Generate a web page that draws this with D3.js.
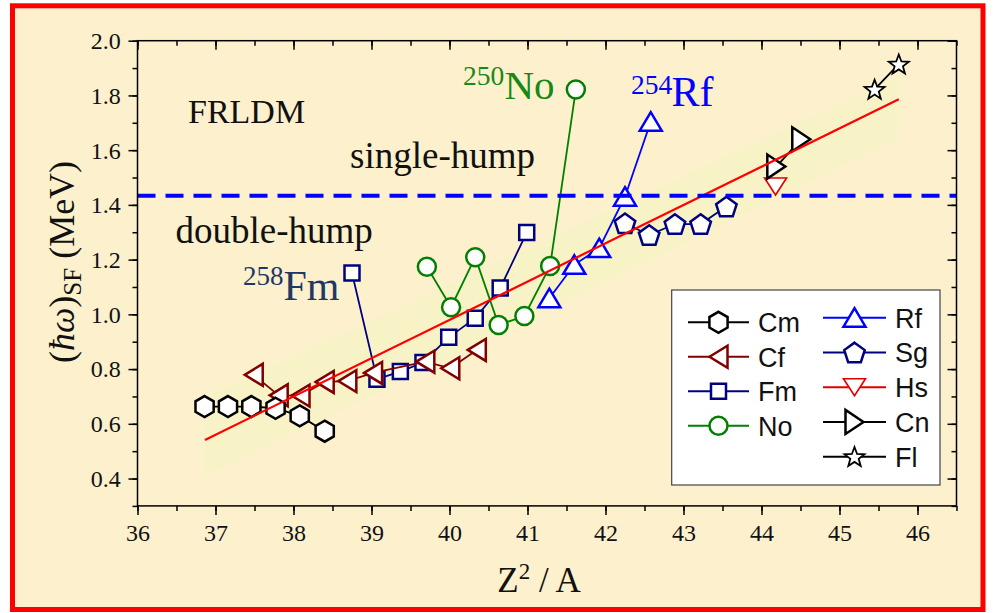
<!DOCTYPE html>
<html><head><meta charset="utf-8">
<script src="https://cdn.jsdelivr.net/npm/d3@7"></script>
<style>body{margin:0;background:#fff}svg{display:block}</style>
</head><body>
<svg id="c" width="994" height="613"></svg>
<script>
// ---------- data ----------
const xTicks = [36,37,38,39,40,41,42,43,44,45,46];
const yTicks = [0.4,0.6,0.8,1.0,1.2,1.4,1.6,1.8,2.0];
const cmX = [36.86,37.16,37.46,37.77,38.08,38.40];
const cmY = [0.663,0.663,0.663,0.657,0.629,0.573];
const cfX = [37.49,37.81,38.09,38.40,38.69,39.02,39.69,40.01,40.35];
const cfY = [0.779,0.704,0.703,0.753,0.756,0.786,0.827,0.803,0.870];
const fmX = [38.75,39.07,39.37,39.66,39.99,40.33,40.65,40.99];
const fmY = [1.151,0.763,0.791,0.824,0.916,0.986,1.096,1.299];
const noX = [39.71,40.02,40.33,40.63,40.96,41.29,41.62];
const noY = [1.174,1.026,1.209,0.961,0.994,1.177,1.822];
const rfX = [41.28,41.60,41.92,42.25,42.58];
const rfY = [1.059,1.181,1.242,1.430,1.704];
const sgX = [42.25,42.56,42.89,43.22,43.55];
const sgY = [1.333,1.290,1.330,1.330,1.394];
const hsX = [44.18];
const hsY = [1.467];
const cnX = [44.19,44.51];
const cnY = [1.540,1.640];
const flX = [45.45,45.76];
const flY = [1.822,1.914];
const fitX = [36.865,45.76];
const fitY = [0.541,1.786];
const bandUpper = [0.695,1.869];
const bandLower = [0.407,1.643];
const threshold = 1.433;
const seriesNames = ["Cm","Cf","Fm","No","Rf","Sg","Hs","Cn","Fl"];

// ---------- setup ----------
const svg = d3.select("#c");
const x = d3.scaleLinear().domain([36,46.5]).range([137.5,956.5]);
const y = d3.scaleLinear().domain([0.3,2.0]).range([505.9,40.7]);
const serif = "'Liberation Serif','Times New Roman',serif";
const sans = "'Liberation Sans',Arial,sans-serif";

svg.append("rect").attr("x",12.5).attr("y",5.8).attr("width",970.5).attr("height",603.7)
  .attr("fill","#FDF0CD").attr("stroke","#ff0000").attr("stroke-width",5);

// marker shapes centered on bbox
function poly(pts){return "M"+pts.map(p=>p[0].toFixed(2)+","+p[1].toFixed(2)).join("L")+"Z";}
const shapes = {
  hex: ()=>poly(d3.range(6).map(k=>{const a=(-90+60*k)*Math.PI/180;return [10.5*Math.cos(a),10.5*Math.sin(a)];})),
  triL: ()=>poly([[-9,0],[9,-11],[9,11]]),
  triR: ()=>poly([[9,0],[-9,-12],[-9,12]]),
  triU: ()=>poly([[0,-9.5],[11,9],[-11,9]]),
  triD: ()=>poly([[0,8.5],[11,-8.5],[-11,-8.5]]),
  square: ()=>poly([[-7.5,-7.5],[7.5,-7.5],[7.5,7.5],[-7.5,7.5]]),
  circle: ()=>"M9,0A9,9 0 1 1 -9,0A9,9 0 1 1 9,0Z",
  pent: ()=>poly(d3.range(5).map(k=>{const a=(-90+72*k)*Math.PI/180;return [10.8*Math.cos(a),10.8*Math.sin(a)+1];})),
  star: ()=>poly(d3.range(10).map(k=>{const a=(-90+36*k)*Math.PI/180;const r=k%2?4.4:10.5;return [r*Math.cos(a),r*Math.sin(a)+0.8];}))
};

const series = {
  Cm:{xs:cmX,ys:cmY,color:"#000000",shape:"hex",sw:2.5},
  Cf:{xs:cfX,ys:cfY,color:"#800000",shape:"triL",sw:2.5},
  Fm:{xs:fmX,ys:fmY,color:"#000080",shape:"square",sw:2.5},
  No:{xs:noX,ys:noY,color:"#008000",shape:"circle",sw:2.5},
  Rf:{xs:rfX,ys:rfY,color:"#0000ff",shape:"triU",sw:2.5},
  Sg:{xs:sgX,ys:sgY,color:"#000080",shape:"pent",sw:2.5},
  Hs:{xs:hsX,ys:hsY,color:"#e00000",shape:"triD",sw:1.6},
  Cn:{xs:cnX,ys:cnY,color:"#000000",shape:"triR",sw:2.5},
  Fl:{xs:flX,ys:flY,color:"#000000",shape:"star",sw:1.8}
};

// band
const bandData = fitX.map((v,i)=>({x:v,lo:bandLower[i],hi:bandUpper[i]}));
svg.append("path").datum(bandData)
  .attr("d",d3.area().x(d=>x(d.x)).y0(d=>y(d.lo)).y1(d=>y(d.hi)))
  .attr("fill","#F7F3C6");

// series
const line = d3.line().x(d=>x(d[0])).y(d=>y(d[1]));
const drawOrder = ["Fm","Cf","Cm","No","Rf","Sg","Hs","Cn","Fl"];
drawOrder.forEach(name=>{
  const s = series[name];
  const pts = s.xs.map((v,i)=>[v,s.ys[i]]);
  const g = svg.append("g");
  if(pts.length>1) g.append("path").attr("d",line(pts)).attr("fill","none").attr("stroke",s.color).attr("stroke-width",1.8);
  g.selectAll("path.m").data(pts).join("path").attr("class","m")
    .attr("d",shapes[s.shape]()).attr("transform",d=>`translate(${x(d[0])},${y(d[1])})`)
    .attr("fill","#ffffff").attr("stroke",s.color).attr("stroke-width",s.sw).attr("stroke-linejoin","miter");
});

// fit line
svg.append("path").attr("d",line(fitX.map((v,i)=>[v,fitY[i]])))
  .attr("stroke","#ff0000").attr("stroke-width",2.2).attr("fill","none");

// threshold dashed line
svg.append("line").attr("x1",x(36)).attr("x2",x(46.5)).attr("y1",y(threshold)).attr("y2",y(threshold))
  .attr("stroke","#0000ff").attr("stroke-width",4).attr("stroke-dasharray","18,10");

// axes
const minorX = d3.range(36,46.51,0.5), minorY = d3.range(0.3,2.001,0.1);
function styleAxis(g){g.select(".domain").remove();g.selectAll("line").attr("stroke","#000").attr("stroke-width",1.5);}
svg.append("g").attr("transform","translate(0,505.9)")
  .call(d3.axisBottom(x).tickValues(minorX).tickSizeInner(5).tickSizeOuter(0).tickFormat("")).call(styleAxis);
svg.append("g").attr("transform","translate(0,505.9)")
  .call(d3.axisBottom(x).tickValues(xTicks).tickSizeInner(9).tickSizeOuter(0).tickFormat(d3.format("d"))).call(styleAxis)
  .call(g=>g.selectAll("text").attr("y",0).attr("dy",0).attr("transform","translate(0,35.5)")
    .style("font-family",serif).style("font-size","24px").attr("fill","#111"));
svg.append("g").attr("transform","translate(0,40.7)")
  .call(d3.axisTop(x).tickValues(minorX).tickSizeInner(-5).tickSizeOuter(0).tickFormat("")).call(styleAxis);
svg.append("g").attr("transform","translate(0,40.7)")
  .call(d3.axisTop(x).tickValues(xTicks).tickSizeInner(-9).tickSizeOuter(0).tickFormat("")).call(styleAxis);
svg.append("g").attr("transform","translate(137.5,0)")
  .call(d3.axisLeft(y).tickValues(minorY).tickSizeInner(5).tickSizeOuter(0).tickFormat("")).call(styleAxis);
svg.append("g").attr("transform","translate(137.5,0)")
  .call(d3.axisLeft(y).tickValues(yTicks).tickSizeInner(9).tickSizeOuter(0).tickFormat(d3.format(".1f"))).call(styleAxis)
  .call(g=>g.selectAll("text").attr("x",-16.8).attr("dy","0.33em")
    .style("font-family",serif).style("font-size","24px").attr("fill","#111"));
svg.append("g").attr("transform","translate(956.5,0)")
  .call(d3.axisRight(y).tickValues(minorY).tickSizeInner(-5).tickSizeOuter(0).tickFormat("")).call(styleAxis);
svg.append("g").attr("transform","translate(956.5,0)")
  .call(d3.axisRight(y).tickValues(yTicks).tickSizeInner(-9).tickSizeOuter(0).tickFormat("")).call(styleAxis);
svg.append("rect").attr("x",137.5).attr("y",40.7).attr("width",819).attr("height",465.2)
  .attr("fill","none").attr("stroke","#000").attr("stroke-width",1.5);

// axis titles
const xt = svg.append("text").attr("x",539).attr("y",591.5).attr("text-anchor","middle")
  .style("font-family",serif).style("font-size","35px").attr("fill","#111");
xt.append("tspan").text("Z");
xt.append("tspan").style("font-size","23px").attr("dy",-13).text("2");
xt.append("tspan").attr("dy",13).text(" / A");

const yt = svg.append("text").attr("transform","translate(74,262) rotate(-90)").attr("text-anchor","middle")
  .style("font-family",serif).style("font-size","36px").attr("fill","#111");
yt.append("tspan").text("(");
yt.append("tspan").style("font-style","italic").text("ħω");
yt.append("tspan").text(")");
yt.append("tspan").style("font-size","25px").attr("dy",7).text("SF");
yt.append("tspan").attr("dy",-7).text(" (MeV)");

// annotations
function ann(tx,ty,txt,fs,col){svg.append("text").attr("x",tx).attr("y",ty).style("font-family",serif).style("font-size",fs+"px").attr("fill",col).text(txt);}
ann(188,122.5,"FRLDM",34,"#111");
ann(350,167.5,"single-hump",37,"#111");
ann(175.5,242.5,"double-hump",37,"#111");
ann(243,285,"258",27,"#1F3864");
ann(283.5,300,"Fm",42,"#1F3864");
ann(463,85,"250",27.5,"#168a16");
ann(504.5,99,"No",41,"#168a16");
ann(631,94,"254",27.5,"#0000ff");
ann(671.5,106,"Rf",42,"#0000ff");

// legend
svg.append("rect").attr("x",671.7).attr("y",290).attr("width",268.3).attr("height",195)
  .attr("fill","#ffffff").attr("stroke","#444").attr("stroke-width",1.2);
const legLeft = ["Cm","Cf","Fm","No"], legRight = ["Rf","Sg","Hs","Cn","Fl"];
function legRow(name,x1,x2,ly,tx){
  const s = series[name];
  svg.append("line").attr("x1",x1).attr("x2",x2).attr("y1",ly).attr("y2",ly).attr("stroke",s.color).attr("stroke-width",2);
  svg.append("path").attr("d",shapes[s.shape]()).attr("transform",`translate(${(x1+x2)/2},${ly})`)
    .attr("fill","#fff").attr("stroke",s.color).attr("stroke-width",s.sw);
  svg.append("text").attr("x",tx).attr("y",ly+10).style("font-family",sans).style("font-size","27px").attr("fill","#111").text(name);
}
legLeft.forEach((n,i)=>legRow(n,688,749,322.3+i*34.5,758));
legRight.forEach((n,i)=>legRow(n,823,886,317.7+i*34.75,895));
</script>
</body></html>
